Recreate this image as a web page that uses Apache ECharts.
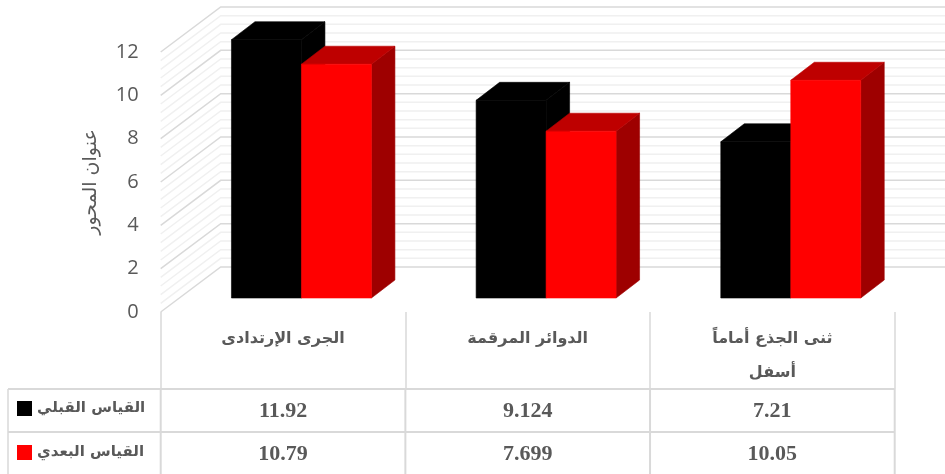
<!DOCTYPE html>
<html>
<head>
<meta charset="utf-8">
<style>html,body{margin:0;padding:0;background:#fff}#chart{width:945px;height:474px}</style>
<script src="https://cdn.jsdelivr.net/npm/echarts@6/dist/echarts.min.js"></script>
</head>
<body>
<div id="chart"></div>
<script>
var categories = ['الجرى الإرتدادى', 'الدوائر المرقمة', 'ثنى الجذع أماماً\nأسفل'];
var seriesNames = ['القياس القبلي', 'القياس البعدي'];
var beforeValues = [11.92, 9.124, 7.21];
var afterValues = [10.79, 7.699, 10.05];
var axisTitle = 'عنوان المحور';

var txtColor = '#595959';
var lineColor = '#d9d9d9';
var arabicFont = '"DejaVu Sans"';
var tableFont = '"Liberation Serif"';

// depth of the 3D box
var wallDx = 60, wallDy = -45;
var barShiftX = 18.4, barShiftY = -14, barDx = 23.5, barDy = -18;
var tableRows = [389, 432];
var tableLeft = 8;

var myChart = echarts.init(document.getElementById('chart'), null, {renderer: 'canvas'});

// slanted side wall + back wall lines
var wallData = [];
for (var k = 0; k <= 30; k++) {
	wallData.push([0, k * 0.4]);
}
var renderWall = function(params, api) {
	var cs = params.coordSys;
	var v = api.value(1);
	var y = api.coord([0, v])[1];
	var major = Math.abs(v / 2 - Math.round(v / 2)) < 0.001;
	return {
		type: 'polyline',
		z2: major ? 2 : 1,
		shape: {points: [[cs.x, y], [cs.x + wallDx, y + wallDy], [cs.x + cs.width + wallDx, y + wallDy]]},
		style: {fill: null, stroke: major ? lineColor : '#f0f0f0', lineWidth: 1.5}
	};
};

var makeBar = function(side, front, top, right) {
	return function(params, api) {
		var p = api.coord([api.value(0), api.value(1)]);
		var base = api.coord([api.value(0), 0]);
		var w = api.size([1, 0])[0] * 0.286;
		var x0 = p[0] + barShiftX + (side === 0 ? -w : 0);
		var x1 = x0 + w;
		var yt = p[1] + barShiftY;
		var yb = base[1] + barShiftY;
		return {
			type: 'group',
			children: [
				{type: 'polygon', shape: {points: [[x1, yb], [x1 + barDx, yb + barDy], [x1 + barDx, yt + barDy], [x1, yt]]}, style: {fill: right, stroke: right, lineWidth: 0.6}},
				{type: 'polygon', shape: {points: [[x0, yt], [x0 + barDx, yt + barDy], [x1 + barDx, yt + barDy], [x1, yt]]}, style: {fill: top, stroke: top, lineWidth: 0.6}},
				{type: 'rect', shape: {x: x0, y: yt, width: w, height: yb - yt}, style: {fill: front, stroke: front, lineWidth: 0.6}}
			]
		};
	};
};

var toData = function(arr) {
	return arr.map(function(v, i) { return [i, v]; });
};

// data table under the plot
var renderTable = function(params, api) {
	var cs = params.coordSys;
	var right = cs.x + cs.width;
	var band = api.size([1, 0])[0];
	var bottom = 474;
	var children = [];
	tableRows.forEach(function(y) {
		children.push({type: 'line', shape: {x1: tableLeft, y1: y, x2: right, y2: y}, style: {stroke: lineColor, lineWidth: 2}});
	});
	children.push({type: 'line', shape: {x1: tableLeft, y1: tableRows[0], x2: tableLeft, y2: bottom}, style: {stroke: lineColor, lineWidth: 1.5}});
	for (var i = 0; i <= categories.length; i++) {
		var x = cs.x + band * i;
		children.push({type: 'line', shape: {x1: x, y1: tableRows[0], x2: x, y2: bottom}, style: {stroke: lineColor, lineWidth: 2}});
	}
	[beforeValues, afterValues].forEach(function(arr, r) {
		arr.forEach(function(v, i) {
			children.push({
				type: 'text',
				style: {
					text: String(v),
					x: api.coord([i, 0])[0],
					y: tableRows[r] + 22,
					textAlign: 'center',
					textVerticalAlign: 'middle',
					font: 'bold 22px ' + tableFont,
					fill: txtColor
				}
			});
		});
	});
	return {type: 'group', children: children};
};

myChart.setOption({
	animation: false,
	backgroundColor: '#fff',
	grid: {left: 160.7, top: 52, width: 734, height: 260},
	legend: {
		orient: 'vertical',
		left: 17,
		top: 393,
		padding: 0,
		itemWidth: 15,
		itemHeight: 15,
		itemGap: 13,
		selectedMode: false,
		data: [{name: seriesNames[0], icon: 'rect'}, {name: seriesNames[1], icon: 'rect'}],
		textStyle: {color: txtColor, fontFamily: arabicFont, fontWeight: 'bold', fontSize: 15, lineHeight: 19, padding: [12, 0, 0, 0]}
	},
	xAxis: {
		type: 'category',
		data: categories,
		axisLine: {show: false},
		axisTick: {show: true, length: 77, lineStyle: {color: lineColor, width: 1.5}},
		axisLabel: {
			interval: 0,
			margin: 10,
			color: txtColor,
			fontFamily: arabicFont,
			fontWeight: 'bold',
			fontSize: 16,
			lineHeight: 34,
			verticalAlign: 'top'
		}
	},
	yAxis: {
		type: 'value',
		min: 0,
		max: 12,
		interval: 2,
		name: axisTitle,
		nameLocation: 'middle',
		nameRotate: 90,
		nameGap: 60,
		nameTextStyle: {color: txtColor, fontFamily: arabicFont, fontSize: 19},
		axisLine: {show: false},
		axisTick: {show: false},
		splitLine: {show: false},
		axisLabel: {margin: 22, color: txtColor, fontFamily: '"Open Sans"', fontSize: 20, padding: [4, 0, 0, 0]}
	},
	series: [
		{name: 'wall', type: 'custom', data: wallData, encode: {x: 0, y: 1}, renderItem: renderWall, silent: true, z: 1},
		{name: 'table', type: 'custom', data: [[0, 0]], encode: {x: 0, y: 1}, renderItem: renderTable, silent: true, z: 1},
		{
			name: seriesNames[0],
			type: 'custom',
			data: toData(beforeValues),
			encode: {x: 0, y: 1},
			itemStyle: {color: '#000000'},
			renderItem: makeBar(0, '#000000', '#000000', '#000000'),
			z: 3
		},
		{
			name: seriesNames[1],
			type: 'custom',
			data: toData(afterValues),
			encode: {x: 0, y: 1},
			itemStyle: {color: '#ff0000'},
			renderItem: makeBar(1, '#ff0000', '#be0000', '#9e0000'),
			z: 4
		}
	]
});
</script>
</body>
</html>
